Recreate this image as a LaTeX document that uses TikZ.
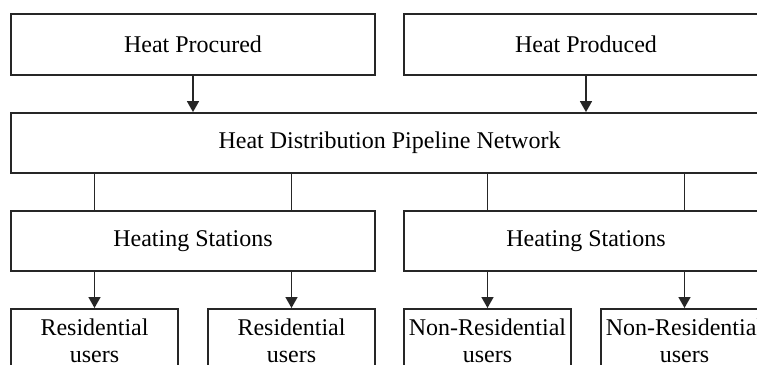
\documentclass[tikz,border=0pt]{standalone}
\usepackage{fontspec}
\setmainfont{Liberation Serif}
\usetikzlibrary{arrows.meta}

\begin{document}
\begin{tikzpicture}[x=0.5pt,y=-0.5pt,
    font=\fontsize{12}{13.5}\selectfont,
    box/.style={draw=black!85,line width=0.9pt,inner sep=0pt,
      minimum width=182pt,minimum height=30.5pt},
    userbox/.style={draw=black!85,line width=0.9pt,anchor=north,
      inner xsep=1pt,text width=81.5pt,align=center,minimum height=32pt},
    flow/.style={draw=black!85,line width=0.8pt,
      -{Triangle[length=5.5pt,width=6pt]}},
    link/.style={draw=black!85,line width=0.8pt}]

  \useasboundingbox (0,0) rectangle (757,365);
  \clip (0,0) rectangle (757,365);

  \node[box] (procured) at (193,44.5) {Heat Procured};
  \node[box] (produced) at (586,44.5) {Heat Produced};

  \node[box,minimum width=378.5pt,minimum height=30pt] (network) at (389.5,143)
    {Heat Distribution Pipeline Network};

  \node[box,minimum height=30pt] (stationsA) at (193,241) {Heating Stations};
  \node[box,minimum height=30pt] (stationsB) at (586,241) {Heating Stations};

  \node[userbox] (resA) at (94.5,308) {Residential\\users};
  \node[userbox] (resB) at (291.5,308) {Residential\\users};
  \node[userbox] (nonresA) at (487.5,308) {Non-Residential\\users};
  \node[userbox] (nonresB) at (684.5,308) {Non-Residential\\users};

  \draw[flow] (procured) -- (procured |- network.north);
  \draw[flow] (produced) -- (produced |- network.north);

  \draw[link] (network.south -| resA) -- (stationsA.north -| resA);
  \draw[link] (network.south -| resB) -- (stationsA.north -| resB);
  \draw[link] (network.south -| nonresA) -- (stationsB.north -| nonresA);
  \draw[link] (network.south -| nonresB) -- (stationsB.north -| nonresB);

  \draw[flow] (stationsA.south -| resA) -- (resA);
  \draw[flow] (stationsA.south -| resB) -- (resB);
  \draw[flow] (stationsB.south -| nonresA) -- (nonresA);
  \draw[flow] (stationsB.south -| nonresB) -- (nonresB);

\end{tikzpicture}
\end{document}
